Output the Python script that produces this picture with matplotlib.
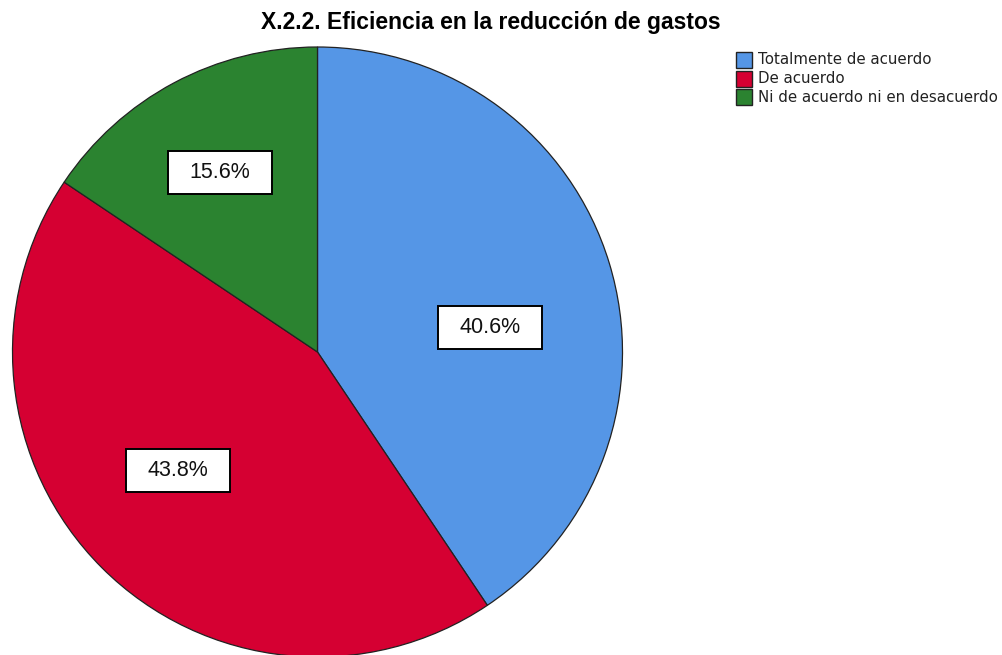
import numpy as np
import matplotlib
matplotlib.use("Agg")
import matplotlib.pyplot as plt
from matplotlib.patches import Rectangle

# ---- data ----
title = "X.2.2. Eficiencia en la reducción de gastos"
categories = ["Totalmente de acuerdo", "De acuerdo", "Ni de acuerdo ni en desacuerdo"]
percentages = [40.6, 43.8, 15.6]
pct_labels = ["40.6%", "43.8%", "15.6%"]

# ---- style ----
colors = ["#5596E6", "#D50032", "#2B8330"]
W, H = 1003, 655
center = (317.5, H - 352)
radius = 305
label_shift_deg = [-8.7, -4.6, 0.5]
label_rfrac = [0.57, 0.60, 0.67]

fig = plt.figure(figsize=(W / 100, H / 100), dpi=100)
ax = fig.add_axes([0, 0, 1, 1])
ax.set_xlim(0, W)
ax.set_ylim(0, H)
ax.set_aspect("equal")
ax.axis("off")

wedges, _ = ax.pie(percentages, colors=colors, startangle=90, counterclock=False,
                   center=center, radius=radius,
                   wedgeprops=dict(edgecolor="#222222", linewidth=0.9))
ax.set_xlim(0, W)
ax.set_ylim(0, H)

for w, lab, sh, rf in zip(wedges, pct_labels, label_shift_deg, label_rfrac):
    mid = np.deg2rad((w.theta1 + w.theta2) / 2 + sh)
    x = center[0] + rf * radius * np.cos(mid)
    y = center[1] + rf * radius * np.sin(mid)
    bw, bh = 104, 43
    ax.add_patch(Rectangle((x - bw / 2, y - bh / 2), bw, bh, facecolor="white",
                           edgecolor="black", linewidth=1.4, zorder=5))
    ax.text(x, y, lab, ha="center", va="center", fontsize=15.5,
            family="Liberation Sans", color="#111111", zorder=6)

fig.text(491 / W, 1 - 23 / H, title, ha="center", va="center", fontsize=16.5,
         fontweight="bold", family="Liberation Sans")

# legend
for i, (cat, c) in enumerate(zip(categories, colors)):
    yc = 60 + i * 18.5
    fig.patches.append(Rectangle((736 / W, 1 - (yc + 8) / H), 16 / W, 16 / H,
                                 transform=fig.transFigure, facecolor=c,
                                 edgecolor="#222222", linewidth=1.0))
    fig.text(758 / W, 1 - yc / H, cat, ha="left", va="center", fontsize=10.8,
             family="DejaVu Sans", color="#222222")

fig.savefig("out.png", dpi=100)
